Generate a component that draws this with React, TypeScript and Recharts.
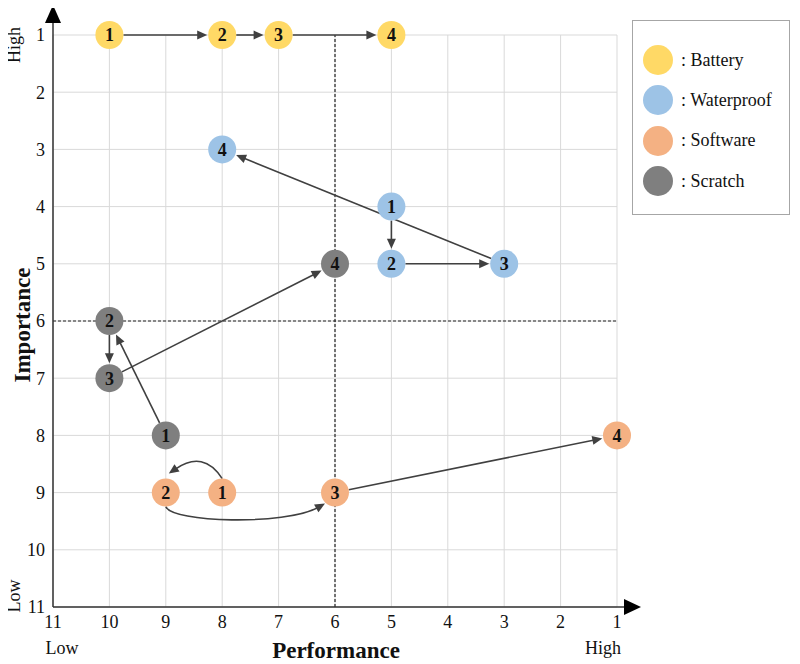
import React from 'react';
import { ScatterChart, Scatter, XAxis, YAxis, CartesianGrid, ReferenceLine, Legend } from 'recharts';

// ---- data ----
const seriesNames = ['Battery', 'Waterproof', 'Software', 'Scratch'];
const seriesColors = ['#FFD966', '#9DC3E6', '#F4B183', '#7F7F7F'];
const stepLabels = ['1', '2', '3', '4'];

const batteryPerformance = [10, 8, 7, 5];
const batteryImportance = [1, 1, 1, 1];
const waterproofPerformance = [5, 5, 3, 8];
const waterproofImportance = [4, 5, 5, 3];
const softwarePerformance = [8, 9, 6, 1];
const softwareImportance = [9, 9, 9, 8];
const scratchPerformance = [9, 10, 10, 6];
const scratchImportance = [8, 6, 7, 5];

const axisTicks = [11, 10, 9, 8, 7, 6, 5, 4, 3, 2, 1];
const quadrantPerformance = 6;
const quadrantImportance = 6;

// arrow shapes between consecutive steps (style only)
const softwareArrowCurves = ['over', 'under', 'straight'];

const performances = [batteryPerformance, waterproofPerformance, softwarePerformance, scratchPerformance];
const importances = [batteryImportance, waterproofImportance, softwareImportance, scratchImportance];

const seriesData = performances.map((perf, i) =>
  perf.map((x, j) => ({ x, y: importances[i][j], label: stepLabels[j] }))
);

type ArrowDef = { from: { x: number; y: number }; to: { x: number; y: number }; curve: string; key: string };
const arrows: ArrowDef[] = [];
seriesData.forEach((pts, i) => {
  for (let j = 0; j < pts.length - 1; j++) {
    arrows.push({
      from: { x: pts[j].x, y: pts[j].y },
      to: { x: pts[j + 1].x, y: pts[j + 1].y },
      curve: i === 2 ? softwareArrowCurves[j] : 'straight',
      key: `${i}-${j}`,
    });
  }
});

// ---- styles ----
const FONT = '"Liberation Serif", "Times New Roman", serif';
const R = 14;
const ARROW_COLOR = '#404040';

function arrowHead(tx: number, ty: number, dx: number, dy: number, len = 10, half = 4.5) {
  const L = Math.hypot(dx, dy) || 1;
  const ux = dx / L, uy = dy / L;
  const bx = tx - ux * len, by = ty - uy * len;
  const px = -uy * half, py = ux * half;
  return `${tx},${ty} ${bx + px},${by + py} ${bx - px},${by - py}`;
}

const ArrowShape = (props: any) => {
  const { x1, y1, x2, y2, curve } = props;
  if (x1 == null) return null;
  if (curve === 'over') {
    const sx = x1, sy = y1 - R;
    const ex = x2 + 3, ey = y2 - R - 5;
    const cx = (sx + ex) / 2 + 8, cy = Math.min(sy, ey) - 24;
    const dx = ex - cx, dy = ey - cy;
    const L = Math.hypot(dx, dy);
    const lx = ex - (dx / L) * 8, ly = ey - (dy / L) * 8;
    return (
      <g>
        <path d={`M${sx},${sy} Q${cx},${cy} ${lx},${ly}`} fill="none" stroke={ARROW_COLOR} strokeWidth={1.6} />
        <polygon points={arrowHead(ex, ey, dx, dy)} fill={ARROW_COLOR} />
      </g>
    );
  }
  if (curve === 'under') {
    const sx = x1, sy = y1 + R;
    const ex = x2 - 10, ey = y2 + 11;
    const c1x = sx + 6, c1y = sy + 16;
    const c2x = ex - 40, c2y = ey + 22;
    const dx = ex - c2x, dy = ey - c2y;
    const L = Math.hypot(dx, dy);
    const lx = ex - (dx / L) * 8, ly = ey - (dy / L) * 8;
    return (
      <g>
        <path d={`M${sx},${sy} C${c1x},${c1y} ${c2x},${c2y} ${lx},${ly}`} fill="none" stroke={ARROW_COLOR} strokeWidth={1.6} />
        <polygon points={arrowHead(ex, ey, dx, dy)} fill={ARROW_COLOR} />
      </g>
    );
  }
  const dx = x2 - x1, dy = y2 - y1;
  const L = Math.hypot(dx, dy) || 1;
  const ux = dx / L, uy = dy / L;
  const sx = x1 + ux * R, sy = y1 + uy * R;
  const ex = x2 - ux * (R + 1), ey = y2 - uy * (R + 1);
  return (
    <g>
      <line x1={sx} y1={sy} x2={ex - ux * 8} y2={ey - uy * 8} stroke={ARROW_COLOR} strokeWidth={1.6} />
      <polygon points={arrowHead(ex, ey, dx, dy)} fill={ARROW_COLOR} />
    </g>
  );
};

const YAxisArrow = (props: any) => {
  const { x1, y1, y2 } = props;
  if (x1 == null) return null;
  const top = Math.min(y1, y2), bottom = Math.max(y1, y2);
  return (
    <g>
      <line x1={x1} y1={bottom} x2={x1} y2={top - 13} stroke="#333" strokeWidth={1.5} />
      <polygon points={`${x1},${top - 30} ${x1 - 8},${top - 12} ${x1 + 8},${top - 12}`} fill="#000" />
    </g>
  );
};

const XAxisArrow = (props: any) => {
  const { x1, x2, y1 } = props;
  if (x1 == null) return null;
  const left = Math.min(x1, x2), right = Math.max(x1, x2);
  return (
    <g>
      <line x1={left} y1={y1} x2={right + 8} y2={y1} stroke="#333" strokeWidth={1.5} />
      <polygon points={`${right + 24},${y1} ${right + 7},${y1 - 8} ${right + 7},${y1 + 8}`} fill="#000" />
    </g>
  );
};

const NodeShape = (props: any) => {
  const { cx, cy, fill, payload } = props;
  if (cx == null) return null;
  return (
    <g>
      <circle cx={cx} cy={cy} r={R} fill={fill} />
      <text x={cx} y={cy} dy="0.35em" textAnchor="middle" fontSize={18} fontWeight="bold" fontFamily={FONT} fill="#111">
        {payload.label}
      </text>
    </g>
  );
};

const LegendContent = (props: any) => {
  const payload = [...(props.payload || [])].sort(
    (a: any, b: any) => seriesNames.indexOf(a.value) - seriesNames.indexOf(b.value)
  );
  return (
    <div style={{ width: 158, height: 195, boxSizing: 'border-box', border: '1.5px solid #a6a6a6', background: '#fff', paddingTop: 19 }}>
      {payload.map((entry: any, i: number) => (
        <div key={i} style={{ display: 'flex', alignItems: 'center', height: 40.3, paddingLeft: 10 }}>
          <div style={{ width: 30, height: 30, borderRadius: '50%', background: entry.color, flex: 'none' }} />
          <span style={{ marginLeft: 8, fontFamily: FONT, fontSize: 18, color: '#111' }}>: {entry.value}</span>
        </div>
      ))}
    </div>
  );
};

const textBase: React.CSSProperties = {
  position: 'absolute',
  fontFamily: FONT,
  color: '#111',
  whiteSpace: 'nowrap',
  transformOrigin: 'center',
  lineHeight: 1,
};

export default function App() {
  return (
    <div style={{ position: 'relative', width: 792, height: 656 }}>
      <ScatterChart width={792} height={656} margin={{ top: 27, right: 183, bottom: 27, left: 0 }} style={{ fontFamily: FONT }}>
        <CartesianGrid stroke="#d9d9d9" strokeWidth={1} />
        <XAxis
          type="number"
          dataKey="x"
          domain={[1, 11]}
          reversed
          ticks={axisTicks}
          interval={0}
          tickLine={false}
          axisLine={false}
          height={30}
          tick={{ fontSize: 18, fill: '#111', fontFamily: FONT }}
        />
        <YAxis
          type="number"
          dataKey="y"
          domain={[1, 11]}
          reversed
          ticks={axisTicks}
          interval={0}
          tickLine={false}
          axisLine={false}
          width={45}
          tick={{ fontSize: 18, fill: '#111', fontFamily: FONT }}
        />
        <ReferenceLine x={quadrantPerformance} stroke="#222" strokeDasharray="3 2" strokeWidth={1.2} />
        <ReferenceLine y={quadrantImportance} stroke="#222" strokeDasharray="3 2" strokeWidth={1.2} />
        <ReferenceLine x={11} shape={(p: any) => <YAxisArrow {...p} />} ifOverflow="visible" />
        <ReferenceLine y={11} shape={(p: any) => <XAxisArrow {...p} />} ifOverflow="visible" />
        {arrows.map((a) => (
          <ReferenceLine
            key={a.key}
            segment={[a.from, a.to]}
            ifOverflow="visible"
            shape={(p: any) => <ArrowShape {...p} curve={a.curve} />}
          />
        ))}
        {seriesData.map((data, i) => (
          <Scatter
            key={seriesNames[i]}
            name={seriesNames[i]}
            data={data}
            fill={seriesColors[i]}
            isAnimationActive={false}
            shape={(p: any) => <NodeShape {...p} />}
          />
        ))}
        <Legend
          layout="vertical"
          align="center"
          verticalAlign="middle"
          wrapperStyle={{ position: 'absolute', left: 624, top: 12, width: 158, height: 195 }}
          content={(p: any) => <LegendContent {...p} />}
        />
      </ScatterChart>
      <div style={{ ...textBase, left: 14, top: 317, fontSize: 23, fontWeight: 'bold', transform: 'translate(-50%, -50%) rotate(-90deg)' }}>Importance</div>
      <div style={{ ...textBase, left: 6, top: 37, fontSize: 18, transform: 'translate(-50%, -50%) rotate(-90deg)' }}>High</div>
      <div style={{ ...textBase, left: 6, top: 588, fontSize: 18, transform: 'translate(-50%, -50%) rotate(-90deg)' }}>Low</div>
      <div style={{ ...textBase, left: 328, top: 642, fontSize: 23, fontWeight: 'bold', transform: 'translate(-50%, -50%)' }}>Performance</div>
      <div style={{ ...textBase, left: 54, top: 640, fontSize: 18, transform: 'translate(-50%, -50%)' }}>Low</div>
      <div style={{ ...textBase, left: 595, top: 640, fontSize: 18, transform: 'translate(-50%, -50%)' }}>High</div>
    </div>
  );
}
